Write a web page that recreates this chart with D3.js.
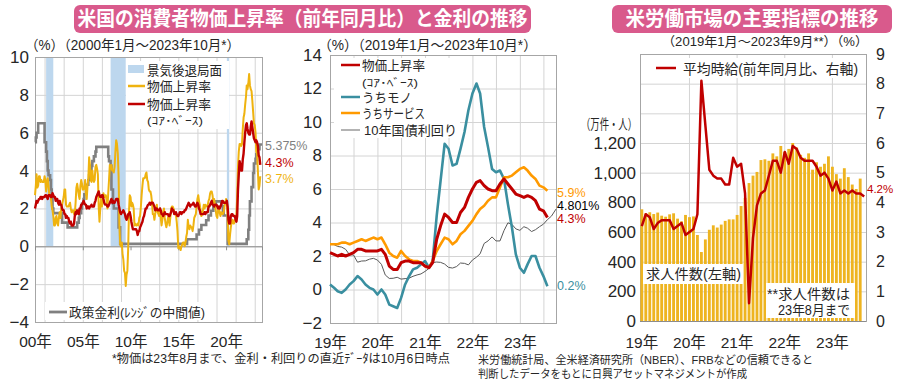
<!DOCTYPE html>
<html><head><meta charset="utf-8">
<script src="https://cdn.jsdelivr.net/npm/d3@7"></script>
<style>
body{margin:0;background:#fff}
svg{display:block}
text{font-family:"Liberation Sans",Arial,"Noto Sans CJK JP",sans-serif}
</style>
</head><body>
<svg id="c" width="900" height="390"></svg>
<script>
// ================= DATA =================
// Left panel: US CPI (YoY %), monthly from 2000-01 to 2023-08
const leftStart = "2000-01";
const cpiHeadline = [
 2.7,3.2,3.8,3.1,3.2,3.7,3.7,3.4,3.5,3.4,3.4,3.4,
 3.7,3.5,2.9,3.3,3.6,3.2,2.7,2.7,2.6,2.1,1.9,1.6,
 1.1,1.1,1.5,1.6,1.2,1.1,1.5,1.8,1.5,2.0,2.2,2.4,
 2.6,3.0,3.0,2.2,2.1,2.1,2.1,2.2,2.3,2.0,1.8,1.9,
 1.9,1.7,1.7,2.3,3.1,3.3,3.0,2.7,2.5,3.2,3.5,3.3,
 3.0,3.0,3.1,3.5,2.8,2.5,3.2,3.6,4.7,4.3,3.5,3.4,
 4.0,3.6,3.4,3.5,4.2,4.3,4.1,3.8,2.1,1.3,2.0,2.5,
 2.1,2.4,2.8,2.6,2.7,2.7,2.4,2.0,2.8,3.5,4.3,4.1,
 4.3,4.0,4.0,3.9,4.2,5.0,5.6,5.4,4.9,3.7,1.1,0.1,
 0.0,0.2,-0.4,-0.7,-1.3,-1.4,-2.1,-1.5,-1.3,-0.2,1.8,2.7,
 2.6,2.1,2.3,2.2,2.0,1.1,1.2,1.1,1.1,1.2,1.1,1.5,
 1.6,2.1,2.7,3.2,3.6,3.6,3.6,3.8,3.9,3.5,3.4,3.0,
 2.9,2.9,2.7,2.3,1.7,1.7,1.4,1.7,2.0,2.2,1.8,1.7,
 1.6,2.0,1.5,1.1,1.4,1.8,2.0,1.5,1.2,1.0,1.2,1.5,
 1.6,1.1,1.5,2.0,2.1,2.1,2.0,1.7,1.7,1.7,1.3,0.8,
 -0.1,0.0,-0.1,-0.2,0.0,0.1,0.2,0.2,0.0,0.2,0.5,0.7,
 1.4,1.0,0.9,1.1,1.0,1.0,0.8,1.1,1.5,1.6,1.7,2.1,
 2.5,2.7,2.4,2.2,1.9,1.6,1.7,1.9,2.2,2.0,2.2,2.1,
 2.1,2.2,2.4,2.5,2.8,2.9,2.9,2.7,2.3,2.5,2.2,1.9,
 1.6,1.5,1.9,2.0,1.8,1.6,1.8,1.7,1.7,1.8,2.1,2.3,
 2.5,2.3,1.5,0.3,0.1,0.6,1.0,1.3,1.4,1.2,1.2,1.4,
 1.4,1.7,2.6,4.2,5.0,5.4,5.4,5.3,5.4,6.2,6.8,7.0,
 7.5,7.9,8.5,8.3,8.6,9.1,8.5,8.3,8.2,7.7,7.1,6.5,
 6.4,6.0,5.0,4.9,4.0,3.0,3.2,3.7
];
const cpiCore = [
 2.0,2.2,2.4,2.3,2.4,2.5,2.5,2.6,2.6,2.5,2.6,2.6,
 2.6,2.7,2.7,2.6,2.5,2.7,2.7,2.7,2.6,2.6,2.8,2.7,
 2.6,2.6,2.4,2.5,2.5,2.3,2.2,2.4,2.2,2.2,2.0,1.9,
 1.9,1.7,1.7,1.5,1.6,1.5,1.5,1.3,1.2,1.3,1.1,1.1,
 1.1,1.2,1.6,1.8,1.7,1.9,1.8,1.7,2.0,2.0,2.2,2.2,
 2.3,2.4,2.3,2.2,2.2,2.0,2.1,2.1,2.0,2.1,2.1,2.2,
 2.1,2.1,2.1,2.3,2.4,2.6,2.7,2.8,2.9,2.7,2.6,2.6,
 2.7,2.7,2.5,2.3,2.2,2.2,2.2,2.1,2.1,2.2,2.3,2.4,
 2.5,2.3,2.4,2.3,2.3,2.4,2.5,2.5,2.5,2.2,2.0,1.8,
 1.7,1.8,1.8,1.9,1.8,1.7,1.5,1.4,1.5,1.7,1.7,1.8,
 1.6,1.3,1.1,0.9,0.9,0.9,0.9,0.9,0.8,0.6,0.8,0.8,
 1.0,1.1,1.2,1.3,1.5,1.6,1.8,2.0,2.0,2.1,2.2,2.2,
 2.3,2.2,2.3,2.3,2.3,2.2,2.1,1.9,2.0,2.0,1.9,1.9,
 1.9,2.0,1.9,1.7,1.7,1.6,1.7,1.8,1.7,1.7,1.7,1.7,
 1.6,1.6,1.7,1.8,2.0,1.9,1.9,1.7,1.7,1.8,1.7,1.6,
 1.6,1.7,1.8,1.8,1.7,1.8,1.8,1.8,1.9,1.9,2.0,2.1,
 2.2,2.3,2.2,2.1,2.2,2.2,2.2,2.3,2.2,2.1,2.1,2.2,
 2.3,2.2,2.0,1.9,1.7,1.7,1.7,1.7,1.7,1.8,1.7,1.8,
 1.8,1.8,2.1,2.1,2.2,2.3,2.4,2.2,2.2,2.1,2.2,2.2,
 2.2,2.1,2.0,2.1,2.0,2.1,2.2,2.4,2.4,2.3,2.3,2.3,
 2.3,2.4,2.1,1.4,1.2,1.2,1.6,1.7,1.7,1.6,1.6,1.6,
 1.4,1.3,1.6,3.0,3.8,4.5,4.3,4.0,4.0,4.6,4.9,5.5,
 6.0,6.4,6.5,6.2,6.0,5.9,5.9,6.3,6.6,6.3,6.0,5.7,
 5.6,5.5,5.6,5.5,5.3,4.8,4.7,4.3
];
// Policy rate (mid-point of range): [month it took effect, value]; last = latest date
const policyRate = [
 ["2000-01-01",5.5],["2000-02-01",5.75],["2000-03-01",6.0],["2000-05-01",6.5],
 ["2001-01-01",5.5],["2001-03-01",5.0],["2001-04-01",4.5],["2001-05-01",4.0],["2001-06-01",3.75],
 ["2001-08-01",3.5],["2001-09-01",3.0],["2001-10-01",2.5],["2001-11-01",2.0],["2001-12-01",1.75],
 ["2002-11-01",1.25],["2003-06-01",1.0],["2004-06-01",1.25],["2004-08-01",1.5],["2004-09-01",1.75],
 ["2004-11-01",2.0],["2004-12-01",2.25],["2005-02-01",2.5],["2005-03-01",2.75],["2005-05-01",3.0],
 ["2005-06-01",3.25],["2005-08-01",3.5],["2005-09-01",3.75],["2005-11-01",4.0],["2005-12-01",4.25],
 ["2006-01-01",4.5],["2006-03-01",4.75],["2006-05-01",5.0],["2006-06-01",5.25],["2007-09-01",4.75],
 ["2007-10-01",4.5],["2007-12-01",4.25],["2008-01-01",3.0],["2008-03-01",2.25],["2008-04-01",2.0],
 ["2008-10-01",1.0],["2008-12-01",0.125],["2015-12-01",0.375],["2016-12-01",0.625],["2017-03-01",0.875],
 ["2017-06-01",1.125],["2017-12-01",1.375],["2018-03-01",1.625],["2018-06-01",1.875],["2018-09-01",2.125],
 ["2018-12-01",2.375],["2019-07-01",2.125],["2019-09-01",1.875],["2019-10-01",1.625],["2020-03-01",0.125],
 ["2022-03-01",0.375],["2022-05-01",0.875],["2022-06-01",1.625],["2022-07-01",2.375],["2022-09-01",3.125],
 ["2022-11-01",3.875],["2022-12-01",4.375],["2023-02-01",4.625],["2023-03-01",4.875],["2023-05-01",5.125],
 ["2023-07-01",5.375],["2023-10-06",5.375]
];
const recessions = [["2001-03-01","2001-11-30"],["2007-12-01","2009-06-30"],["2020-02-01","2020-04-30"]];
const leftYTicks = [-4,-2,0,2,4,6,8,10];
const leftXTickYears = [2000,2005,2010,2015,2020];
const leftXTickLabels = ["00年","05年","10年","15年","20年"];

// Middle panel: monthly 2019-01 .. 2023-08
const midStart = "2019-01";
const midCore = [
 2.2,2.1,2.0,2.1,2.0,2.1,2.2,2.4,2.4,2.3,2.3,2.3,
 2.3,2.4,2.1,1.4,1.2,1.2,1.6,1.7,1.7,1.6,1.6,1.6,
 1.4,1.3,1.6,3.0,3.8,4.5,4.3,4.0,4.0,4.6,4.9,5.5,
 6.0,6.4,6.5,6.2,6.0,5.9,5.9,6.3,6.6,6.3,6.0,5.7,
 5.6,5.5,5.6,5.5,5.3,4.8,4.7,4.3
];
const midGoods = [
 0.3,0.1,-0.1,-0.2,0.0,0.3,0.5,0.8,0.6,0.3,0.1,0.0,
 -0.3,0.0,-0.3,-0.9,-1.0,-1.1,-0.5,0.3,0.8,1.2,1.3,1.5,
 1.7,1.3,1.7,4.4,6.5,8.7,8.4,7.4,7.5,8.4,9.4,10.7,
 11.7,12.3,11.7,9.7,8.5,7.2,7.0,7.1,6.6,5.1,3.7,2.1,
 1.3,1.0,1.5,2.0,2.0,1.3,0.8,0.2
];
const midServices = [
 2.7,2.7,2.7,2.8,2.8,2.7,2.8,2.9,3.0,2.9,3.0,3.1,
 3.0,3.1,2.7,2.2,2.0,1.9,2.3,2.0,1.8,1.7,1.7,1.6,
 1.4,1.3,1.7,2.3,2.7,3.1,3.0,2.7,2.9,3.3,3.5,3.8,
 4.1,4.5,4.8,5.0,5.3,5.5,5.5,6.1,6.7,6.7,6.8,7.0,
 7.2,7.3,7.1,6.8,6.6,6.2,6.1,5.9
];
const yield10 = [
 2.71,2.68,2.57,2.53,2.40,2.07,2.06,1.63,1.70,1.71,1.81,1.86,
 1.76,1.50,0.87,0.66,0.67,0.73,0.62,0.65,0.68,0.79,0.87,0.93,
 1.08,1.26,1.61,1.64,1.62,1.52,1.32,1.28,1.37,1.58,1.56,1.47,
 1.76,1.93,2.13,2.75,2.90,3.14,2.90,2.90,3.52,3.98,3.89,3.62,
 3.53,3.75,3.66,3.46,3.57,3.75,3.90,4.17,4.38
];
const yield10Latest = ["2023-10-06",4.801];
const midYTicks = [-2,0,2,4,6,8,10,12,14];
const midXTickYears = [2019,2020,2021,2022,2023];
const midXTickLabels = ["19年","20年","21年","22年","23年"];

// Right panel: monthly 2019-01 ..
const rightStart = "2019-01";
const jobOpenings = [  // 万件 (to 2023-08)
 753,726,733,721,731,710,703,719,726,690,672,715,
 700,705,580,465,550,615,645,630,650,675,685,685,
 715,775,830,930,980,1005,1085,1090,1080,1130,1110,1180,
 1140,1160,1200,1170,1120,1100,1130,1020,1070,1040,1060,1110,
 1040,990,960,1030,970,920,890,960
];
const hourlyEarnings = [ // % YoY (to 2023-09)
 3.2,3.6,3.5,3.1,3.3,3.4,3.4,3.4,3.1,3.2,3.3,2.9,
 3.0,3.1,3.6,8.1,6.6,5.1,4.9,4.8,4.8,4.6,4.6,5.5,
 5.2,5.3,4.3,0.6,2.8,3.9,4.3,4.4,4.9,5.4,5.4,5.0,
 5.7,5.3,5.9,5.8,5.5,5.4,5.4,5.4,5.2,4.9,5.0,4.8,
 4.4,4.7,4.3,4.4,4.3,4.4,4.3,4.3,4.2
];
const rightLeftTicks = [0,200,400,600,800,1000,1200];
const rightRightTicks = [0,1,2,3,4,5,6,7,8,9];
const rightXTickYears = [2019,2020,2021,2022,2023];
const rightXTickLabels = ["19年","20年","21年","22年","23年"];

// ================= DRAW =================
const C = {
  grid:"#D4D4D4", frame:"#A6A6A6", text:"#262626",
  headline:"#EFB30F", core:"#C00000", policy:"#808080", recess:"#BDD7EE",
  goods:"#3A8FA0", services:"#FF9A00", yld:"#595959", bars:"#EEB420", title:"#D95A8C"
};
const svg = d3.select("#c");
svg.append("rect").attr("width",900).attr("height",390).attr("fill","#fff");
const pM = d3.timeParse("%Y-%m");
const pD = d3.timeParse("%Y-%m-%d");
const monthly = (start, vals) => vals.map((v,i)=>({date:d3.timeMonth.offset(pM(start),i), v}));

function T(g, x, y, s, o={}) {
  const t = g.append("text").attr("x",x).attr("y",y).text(s)
    .attr("font-size",o.size||13).attr("fill",o.fill||C.text)
    .attr("text-anchor",o.anchor||"start");
  if (o.len) t.attr("textLength",o.len).attr("lengthAdjust","spacingAndGlyphs");
  if (o.weight) t.attr("font-weight",o.weight);
  if (o.family) t.style("font-family",o.family);
  return t;
}
function styleTicks(g, size) {
  g.select(".domain").remove();
  g.selectAll("text").attr("font-size",size).attr("fill",C.text)
   .style("font-family",'"Liberation Sans",Arial,"Noto Sans CJK JP",sans-serif');
}
function gridH(g, y, ticks, x0, x1) {
  const a = g.append("g").attr("transform",`translate(${x0},0)`)
    .call(d3.axisLeft(y).tickValues(ticks).tickSize(-(x1-x0)).tickFormat(""));
  a.select(".domain").remove();
  a.selectAll("line").attr("stroke",C.grid).attr("stroke-width",1);
}
function gridV(g, x, vals, y0, y1) {
  const a = g.append("g").attr("transform",`translate(0,${y1})`)
    .call(d3.axisBottom(x).tickValues(vals).tickSize(-(y1-y0)).tickFormat(""));
  a.select(".domain").remove();
  a.selectAll("line").attr("stroke",C.grid).attr("stroke-width",1);
}
function frame(g, x0, y0, x1, y1) {
  g.append("rect").attr("x",x0+0.5).attr("y",y0+0.5).attr("width",x1-x0).attr("height",y1-y0)
   .attr("fill","none").attr("stroke",C.frame).attr("stroke-width",1);
}

// ---------- Titles ----------
svg.append("rect").attr("x",74).attr("y",5).attr("width",457).attr("height",28).attr("rx",6).attr("fill",C.title);
T(svg,302.5,26,"米国の消費者物価上昇率（前年同月比）と金利の推移",{size:20,fill:"#fff",anchor:"middle",len:450,weight:"bold",family:'"Noto Sans CJK JP",sans-serif'});
svg.append("rect").attr("x",612).attr("y",5).attr("width",280).attr("height",28).attr("rx",6).attr("fill",C.title);
T(svg,752,26,"米労働市場の主要指標の推移",{size:20,fill:"#fff",anchor:"middle",len:253,weight:"bold",family:'"Noto Sans CJK JP",sans-serif'});

// ---------- LEFT PANEL ----------
const L = {x0:35,x1:262,y0:57,y1:322};
const xL = d3.scaleTime().domain([new Date(2000,0,1), pD(yield10Latest[0])]).range([L.x0,L.x1]);
const yL = d3.scaleLinear().domain([-4,10]).range([L.y1,L.y0]);
const gL = svg.append("g");
gridH(gL, yL, leftYTicks, L.x0, L.x1);
gridV(gL, xL, d3.range(2001,2024,2).map(y=>new Date(y,0,1)), L.y0, L.y1);
gL.selectAll(".rec").data(recessions).join("rect")
  .attr("x",d=>xL(pD(d[0]))).attr("width",d=>Math.max(1.5,xL(pD(d[1]))-xL(pD(d[0]))))
  .attr("y",L.y0).attr("height",yL(0)-L.y0).attr("fill",C.recess);
frame(gL,L.x0,L.y0,L.x1,L.y1);
const zL = gL.append("g").attr("transform",`translate(0,${yL(0)})`)
  .call(d3.axisBottom(xL).tickValues(leftXTickYears.map(y=>new Date(y,0,1))).tickSize(4).tickFormat(""));
zL.select(".domain").attr("stroke","#8C8C8C");
zL.selectAll("line").attr("stroke","#8C8C8C");
const ayL = gL.append("g").attr("transform",`translate(${L.x0},0)`)
  .call(d3.axisLeft(yL).tickValues(leftYTicks).tickSize(0).tickPadding(6));
styleTicks(ayL,17);
const axL = gL.append("g").attr("transform",`translate(0,${L.y1})`)
  .call(d3.axisBottom(xL).tickValues(leftXTickYears.map(y=>new Date(y,0,1))).tickSize(0).tickPadding(14).tickFormat((d,i)=>leftXTickLabels[i]));
styleTicks(axL,15.5);
const polData = policyRate.map(d=>({date:pD(d[0]), v:d[1]}));
gL.append("path").datum(polData).attr("fill","none").attr("stroke",C.policy).attr("stroke-width",2.6)
  .attr("d",d3.line().x(d=>xL(d.date)).y(d=>yL(d.v)).curve(d3.curveStepAfter));
gL.append("path").datum(monthly(leftStart,cpiHeadline)).attr("fill","none").attr("stroke",C.headline).attr("stroke-width",2)
  .attr("stroke-linejoin","round").attr("d",d3.line().x(d=>xL(d.date)).y(d=>yL(d.v)));
gL.append("path").datum(monthly(leftStart,cpiCore)).attr("fill","none").attr("stroke",C.core).attr("stroke-width",2.4)
  .attr("stroke-linejoin","round").attr("d",d3.line().x(d=>xL(d.date)).y(d=>yL(d.v)));
gL.append("rect").attr("x",126).attr("y",61).attr("width",103).attr("height",68).attr("fill","#fff");
gL.append("rect").attr("x",128).attr("y",65).attr("width",16).attr("height",8).attr("fill",C.recess);
T(gL,147,75,"景気後退局面",{size:13,len:75});
gL.append("line").attr("x1",128).attr("x2",145).attr("y1",86).attr("y2",86).attr("stroke",C.headline).attr("stroke-width",2.5);
T(gL,147,91,"物価上昇率",{size:13,len:64});
gL.append("line").attr("x1",128).attr("x2",145).attr("y1",104).attr("y2",104).attr("stroke",C.core).attr("stroke-width",2.5);
T(gL,147,109,"物価上昇率",{size:13,len:64});
T(gL,147,125,"(ｺｱ･ﾍﾞｰｽ)",{size:11,len:56});
gL.append("rect").attr("x",45).attr("y",302).attr("width",163).attr("height",18).attr("fill","#fff");
gL.append("line").attr("x1",49).attr("x2",67).attr("y1",312).attr("y2",312).attr("stroke",C.policy).attr("stroke-width",2.8);
T(gL,69,316.5,"政策金利(ﾚﾝｼﾞの中間値)",{size:13,len:136});
T(gL,265,150,"5.375%",{size:12.5,fill:"#7F7F7F"});
T(gL,265,167,"4.3%",{size:12.5,fill:C.core});
T(gL,265,183,"3.7%",{size:12.5,fill:C.headline});
T(svg,25,50,"（%）（2000年1月～2023年10月*）",{size:14,len:215});

// ---------- MIDDLE PANEL ----------
const M = {x0:330,x1:556,y0:55,y1:323};
const xM = d3.scaleTime().domain([new Date(2019,0,1), pD(yield10Latest[0])]).range([M.x0,M.x1]);
const yM = d3.scaleLinear().domain([-2,14]).range([M.y1,M.y0]);
const gM = svg.append("g");
gridH(gM, yM, midYTicks, M.x0, M.x1);
const halfYears = [];
[2019,2020,2021,2022,2023].forEach(y=>{ if(y>2019) halfYears.push(new Date(y,0,1)); halfYears.push(new Date(y,6,1)); });
gridV(gM, xM, halfYears, M.y0, M.y1);
frame(gM,M.x0,M.y0,M.x1,M.y1);
const ayM = gM.append("g").attr("transform",`translate(${M.x0},0)`)
  .call(d3.axisLeft(yM).tickValues(midYTicks).tickSize(0).tickPadding(8));
styleTicks(ayM,17);
const axM = gM.append("g").attr("transform",`translate(0,${M.y1})`)
  .call(d3.axisBottom(xM).tickValues(midXTickYears.map(y=>new Date(y,0,1))).tickSize(0).tickPadding(14).tickFormat((d,i)=>midXTickLabels[i]));
styleTicks(axM,15.5);
const lineM = d3.line().x(d=>xM(d.date)).y(d=>yM(d.v));
const yData = monthly(midStart,yield10); yData.push({date:pD(yield10Latest[0]), v:yield10Latest[1]});
gM.append("path").datum(yData).attr("fill","none").attr("stroke",C.yld).attr("stroke-width",1).attr("d",lineM);
gM.append("path").datum(monthly(midStart,midGoods)).attr("fill","none").attr("stroke",C.goods).attr("stroke-width",2.6).attr("stroke-linejoin","round").attr("d",lineM);
gM.append("path").datum(monthly(midStart,midServices)).attr("fill","none").attr("stroke",C.services).attr("stroke-width",2.6).attr("stroke-linejoin","round").attr("d",lineM);
gM.append("path").datum(monthly(midStart,midCore)).attr("fill","none").attr("stroke",C.core).attr("stroke-width",3).attr("stroke-linejoin","round").attr("d",lineM);
gM.append("rect").attr("x",334).attr("y",58).attr("width",126).attr("height",80).attr("fill","#fff");
gM.append("line").attr("x1",341).attr("x2",360).attr("y1",65).attr("y2",65).attr("stroke",C.core).attr("stroke-width",2.5);
T(gM,362,70,"物価上昇率",{size:13,len:63});
T(gM,362,87,"(ｺｱ･ﾍﾞｰｽ)",{size:11,len:56});
gM.append("line").attr("x1",341).attr("x2",360).attr("y1",97).attr("y2",97).attr("stroke",C.goods).attr("stroke-width",2.5);
T(gM,362,102,"うちモノ",{size:13,len:50});
gM.append("line").attr("x1",341).attr("x2",360).attr("y1",113).attr("y2",113).attr("stroke",C.services).attr("stroke-width",2.5);
T(gM,362,118,"うちサービス",{size:13,len:63});
gM.append("line").attr("x1",341).attr("x2",360).attr("y1",130).attr("y2",130).attr("stroke","#808080").attr("stroke-width",1.2);
T(gM,364,135,"10年国債利回り",{size:13,len:93});
T(gM,557,197,"5.9%",{size:12.5,fill:C.services});
T(gM,557,210,"4.801%",{size:12.5,fill:"#000"});
T(gM,557,223,"4.3%",{size:12.5,fill:C.core});
T(gM,557,290,"0.2%",{size:12.5,fill:C.goods});
T(svg,318,50,"（%）（2019年1月～2023年10月*）",{size:14,len:219});

// ---------- RIGHT PANEL ----------
const R = {x0:640,x1:866,y0:54,y1:321};
const months = d3.range(hourlyEarnings.length).map(i=>d3.timeMonth.offset(pM(rightStart),i));
const xR = d3.scaleBand().domain(months.map(d=>+d)).range([R.x0,R.x1]).paddingInner(0.28).paddingOuter(0.1);
const cx = d=>xR(+d)+xR.bandwidth()/2;
const yRL = d3.scaleLinear().domain([0,1800]).range([R.y1,R.y0]);
const yRR = d3.scaleLinear().domain([0,9]).range([R.y1,R.y0]);
const gR = svg.append("g");
gridH(gR, yRR, rightRightTicks, R.x0, R.x1);
gR.selectAll(".vg").data(rightXTickYears.slice(1)).join("line")
  .attr("x1",y=>cx(new Date(y,0,1))).attr("x2",y=>cx(new Date(y,0,1)))
  .attr("y1",R.y0).attr("y2",R.y1).attr("stroke",C.grid);
frame(gR,R.x0,R.y0,R.x1,R.y1);
gR.selectAll(".bar").data(jobOpenings).join("rect")
  .attr("x",(d,i)=>xR(+months[i])).attr("width",xR.bandwidth())
  .attr("y",d=>yRL(d)).attr("height",d=>R.y1-yRL(d)).attr("fill",C.bars);
gR.append("line").attr("x1",R.x0).attr("x2",R.x1).attr("y1",R.y1+0.5).attr("y2",R.y1+0.5).attr("stroke","#8C8C8C");
gR.append("path").datum(hourlyEarnings).attr("fill","none").attr("stroke",C.core).attr("stroke-width",2.5)
  .attr("stroke-linejoin","round")
  .attr("d",d3.line().x((d,i)=>cx(months[i])).y(d=>yRR(d)));
const ayRL = gR.append("g").attr("transform",`translate(${R.x0},0)`)
  .call(d3.axisLeft(yRL).tickValues(rightLeftTicks).tickSize(0).tickPadding(4).tickFormat(d3.format(",")));
styleTicks(ayRL,17);
const ayRR = gR.append("g").attr("transform",`translate(${R.x1},0)`)
  .call(d3.axisRight(yRR).tickValues(rightRightTicks).tickSize(0).tickPadding(10));
styleTicks(ayRR,16);
gR.selectAll(".xl").data(rightXTickYears).join("text")
  .attr("x",(y)=>cx(new Date(y,0,1))).attr("y",348).attr("text-anchor","middle")
  .attr("font-size",15.5).attr("fill",C.text).text((y,i)=>rightXTickLabels[i]);
gR.append("rect").attr("x",652).attr("y",58).attr("width",210).attr("height",20).attr("fill","#fff");
gR.append("line").attr("x1",656).attr("x2",676).attr("y1",68).attr("y2",68).attr("stroke",C.core).attr("stroke-width",2.5);
T(gR,683,73.5,"平均時給(前年同月比、右軸)",{size:14,len:175});
gR.append("rect").attr("x",643).attr("y",264).attr("width",100).attr("height",20).attr("fill","#fff");
T(gR,646,279,"求人件数(左軸)",{size:14,len:95});
gR.append("rect").attr("x",766).attr("y",283).attr("width",89).attr("height",35).attr("fill","#fff");
T(gR,767,298.5,"**求人件数は",{size:14,len:83});
T(gR,778,314.5,"23年8月まで",{size:14,len:72});
T(gR,867,192.5,"4.2%",{size:11.5,fill:C.core});
T(svg,662,46,"（2019年1月～2023年9月**）（%）",{size:12.6,len:206});
T(svg,581,129,"（万件・人）",{size:14,len:56});

// ---------- Footnotes ----------
T(svg,112,363,"*物価は23年8月まで、金利・利回りの直近ﾃﾞｰﾀは10月6日時点",{size:12,len:338});
T(svg,478,364,"米労働統計局、全米経済研究所（NBER）、FRBなどの信頼できると",{size:11.5,len:335});
T(svg,478,377.5,"判断したデータをもとに日興アセットマネジメントが作成",{size:11.5,len:269});
</script>
</body></html>
